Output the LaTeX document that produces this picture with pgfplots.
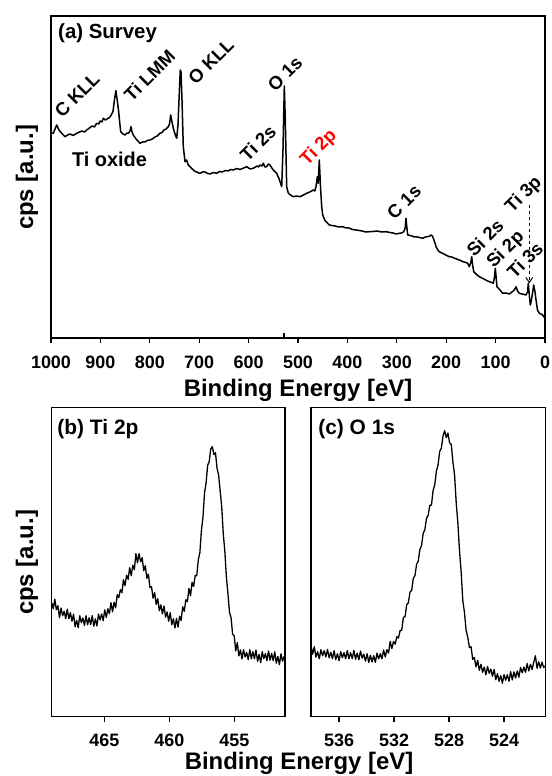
\documentclass[border=0pt]{standalone}
\usepackage{fontspec}
\setmainfont{Liberation Sans}
\usepackage{pgfplots}
\pgfplotsset{compat=1.18}
\usetikzlibrary{arrows.meta}

\pgfplotsset{
  xps/.style={
    scale only axis,
    anchor=south west,
    x dir=reverse,
    axis line style={line width=1.3bp, black},
    tick align=outside,
    xtick pos=bottom,
    ytick=\empty,
    major tick length=5bp,
    tick style={line width=1.2bp, black},
    ticklabel style={font=\fontsize{18}{20}\selectfont\bfseries},
    /pgf/number format/assume math mode=true,
    /pgf/number format/set thousands separator={},
    xticklabel style={yshift=-9bp},
  },
  curve/.style={black, line width=1.5bp, line join=round, no marks},
}
\tikzset{lab/.style={font=\fontsize{18.5}{21}\selectfont\bfseries, rotate=45, inner sep=0pt}}

\begin{document}
\begin{tikzpicture}[x=1bp,y=1bp]
\path[use as bounding box] (0,0) rectangle (552,776);

% ---------------- (a) Survey ----------------
\begin{axis}[xps, at={(51bp,438bp)}, width=494bp, height=322bp,
  xmin=0, xmax=1000, ymin=0, ymax=322,
  xtick={0,100,...,1000}]
\addplot[curve] table {
1000 205
995.3 204.7
988.5 213
983.8 208
978.3 204.7
971.7 201.3
966 203
961.5 204
955 202.5
948 204.7
942 206
937.2 207
932 206
927.7 208
922 210
917 212
912 211
907.5 214.7
903 214
900.8 217
897 216
894.1 219.7
890 218
886.6 219
883 220
880.1 221.3
874.6 226.3
871 240
868.6 247.3
866 238
863.4 228
861 216
858.9 206.3
854.3 204
850.2 203
846 205
843.5 204.7
840 207
838 211.3
836 206
833.4 203
827.9 199
824 197
819.8 194.7
815 196
809.7 196
805 197.5
799.6 198
795 199
789.5 201
785 202
779.4 204.7
775 205.5
771.3 208
767 209
762.6 211.3
760 214
757.7 223
755 216
752.4 209.7
749 204
745.5 199.7
742.9 213
740.9 238
738.3 268
736.8 266
734.8 238
732.2 191.3
728.7 176.3
725.7 178
722.1 173
718 171
714 169
711.9 168
708 166.5
704.5 166
701 165
698.4 164.7
693 166
688.3 166
683 164.5
678.1 164
671 165.5
664.6 164.7
659 166.5
653.8 166
647 167.5
641.7 167
636 168.5
631 168
624 169.5
617.4 168.5
610 170
603.8 171.3
597 169
590.5 169.7
586 171
583 172
580 171
576.9 173
573 172
570.2 174.7
567 171
563.4 171.3
560 174
556.7 173
553 170
550 168
546 166
543.1 164.7
539 160
536.4 156.3
533 151.3
530.4 188
527.7 252
525.7 218
522.9 151.3
519.6 144.7
515 143
509.5 141.3
503 142
496 141.3
489 143
482.4 144.7
476 146
469 148
466 147
463.6 151.3
460.9 161.3
458.9 154.7
456.9 178
454.1 148
452 131.3
450 123
446 118
443.3 116.3
436.6 113
431 112.5
425.1 112
418 111
409.5 111.3
403 110
396.8 110
390 108.5
382.6 108
376 107.5
370.4 107
363 106
355.7 106.3
348 106.5
340.1 107
331 106
321.9 106.3
314 105.5
307.7 105
301 104
294.9 104.7
290 105
286 106.3
283 110
281.4 119.7
279.5 110
277.9 103
273 102.5
269.2 102
265 101
261.1 101.3
254 100.5
247.6 99.7
242 101
237.4 101.3
233 102
230.8 103
228 102
226.1 99.7
222 94
220.6 91.3
217 88
214 86.3
209 85
204.5 84
199 82.5
193.7 81.3
189 81
184.2 80
179 79
173.5 78
169 77
164 76
160 75.5
156.5 74.7
153.2 71.3
150 76
148.4 81.3
146.5 73
144.3 66.3
139.7 64
133 61.3
128 60
123.5 59
118 57.5
112.8 56.3
108 55.5
104.7 54.7
102.5 60
100.6 69.7
98.8 60
97.2 51.3
91.1 48
85.6 44.7
78.9 45
72.3 44
66.8 46
62.1 48
58.7 51.3
55.7 47
52 44.7
46.6 44
42 43.5
38.5 43
35.4 46
33.8 54.7
31.8 43
29.8 33
28.3 36
26.3 41.3
22.9 53
20.2 46
18.2 38
15.2 28
11.5 24.7
8.1 24
4.7 23
2 21
0 19.7
};
\addplot[curve] coordinates {(528,0) (528,5)};
\node[anchor=west, font=\fontsize{20.5}{24}\selectfont\bfseries, inner sep=0pt] at (axis cs:985.8,305) {(a) Survey};
\node[font=\fontsize{20}{24}\selectfont\bfseries, inner sep=0pt] at (axis cs:881.6,178.5) {Ti oxide};
\node[lab] at (axis cs:947,243) {C KLL};
\node[lab] at (axis cs:800.6,263) {Ti LMM};
\node[lab] at (axis cs:676,276.5) {O KLL};
\node[lab] at (axis cs:581,195) {Ti 2s};
\node[lab] at (axis cs:526.3,264) {O 1s};
\node[lab, text=red] at (axis cs:457.5,190) {Ti 2p};
\node[lab] at (axis cs:285.4,136) {C 1s};
\node[lab] at (axis cs:121.5,100) {Si 2s};
\node[lab] at (axis cs:79,88) {Si 2p};
\node[lab] at (axis cs:40.5,78) {Ti 3s};
\node[lab] at (axis cs:42.5,143) {Ti 3p};
\draw[dashed, line width=1bp, -{Straight Barb[length=5bp,width=7bp]}] (axis cs:31.8,133) -- (axis cs:31.8,54.7);
\end{axis}

% ---------------- (b) Ti 2p ----------------
\begin{axis}[xps, at={(51.7bp,59.3bp)}, width=233.3bp, height=309bp,
  xmin=451.1, xmax=469.05, ymin=0, ymax=309,
  xtick={465,460,455}]
\addplot[curve, line width=1.3bp] table {
469.05 114
468.93 108
468.81 117.5
468.69 107
468.57 111
468.45 99
468.33 108.7
468.21 101
468.09 105.5
467.97 98
467.85 107.5
467.73 98
467.61 104
467.49 95.5
467.37 102.5
467.25 90
467.13 96.3
467.01 89
466.89 101
466.77 94
466.65 98.7
466.53 91.3
466.41 101
466.29 92
466.17 99
466.05 92
465.93 101.2
465.81 90.5
465.69 97.8
465.57 90.7
465.45 102.7
465.33 96.7
465.21 102.7
465.09 96
464.97 106.8
464.85 99.2
464.73 108
464.61 103
464.49 114
464.37 105
464.25 114.5
464.13 109
464.01 122
463.89 119
463.77 127
463.65 124
463.53 137
463.41 131
463.29 141.5
463.17 137.5
463.05 149
462.93 141
462.81 151.5
462.69 147
462.57 163
462.45 154
462.33 163
462.21 155
462.09 159
461.97 146
461.85 151
461.73 138.5
461.61 142.5
461.49 129
461.37 130
461.25 118.5
461.13 124
461.01 112.3
460.89 118
460.77 106
460.65 111.8
460.53 102.8
460.41 110.7
460.29 99.6
460.17 104.7
460.05 95.5
459.93 104
459.81 92
459.69 98
459.57 88.7
459.45 98.5
459.33 89.5
459.21 100.5
459.09 96.3
458.97 110
458.85 105.3
458.73 117
458.61 115
458.49 128.3
458.37 121
458.25 134.3
458.13 130.3
458.01 141.3
457.89 141
457.77 157
457.65 164
457.53 186.5
457.41 199.5
457.29 224
457.17 234
457.05 251.5
456.93 255
456.81 268
456.69 270
456.57 262
456.45 264
456.33 248.5
456.21 242
456.09 226
455.97 210
455.85 183
455.73 165.5
455.61 139.8
455.49 123
455.37 104.5
455.25 99
455.13 82.5
455.01 81
454.89 65.8
454.77 74
454.65 60.8
454.53 66.8
454.41 57.8
454.29 67
454.17 59.6
454.05 64.2
453.93 57
453.81 67
453.69 58
453.57 65
453.45 57.9
453.33 66.7
453.21 55.4
453.09 62.2
452.97 54
452.85 65
452.73 58
452.61 63
452.49 56
452.37 65.7
452.25 56.5
452.13 63.3
452.01 56
451.89 64.8
451.77 53.5
451.65 60.3
451.53 52
451.41 62.8
451.29 55.5
451.17 60.2
451.10 55
};
\node[anchor=west, font=\fontsize{21}{24}\selectfont\bfseries, inner sep=0pt] at (axis cs:468.62,287.5) {(b) Ti 2p};
\end{axis}

% ---------------- (c) O 1s ----------------
\begin{axis}[xps, at={(311bp,59.3bp)}, width=234.7bp, height=309bp,
  xmin=520.97, xmax=538.04, ymin=0, ymax=309,
  xtick={536,532,528,524}]
\addplot[curve, line width=1.3bp] table {
538.04 71
537.92 62.5
537.80 70
537.68 59.6
537.56 65
537.44 58
537.32 67
537.20 61
537.08 66
536.96 59.8
536.84 67.3
536.72 58.8
536.60 64.4
536.48 58
536.36 66
536.24 57
536.12 63
536.00 56
535.88 65
535.76 59
535.64 64
535.52 58
535.40 66
535.28 58
535.16 64
535.04 58
534.92 66.2
534.80 57.4
534.68 63.6
534.56 56.9
534.44 65.6
534.32 58.6
534.20 62.6
534.08 55.6
533.96 63
533.84 54.3
533.72 61.5
533.60 54.8
533.48 61
533.36 54.3
533.24 63.5
533.12 57.8
533.00 63
532.88 57.9
532.76 66.8
532.64 59.7
532.52 67
532.40 63.7
532.28 75.3
532.16 68.2
532.04 75.2
531.92 72.6
531.80 80
531.68 78.7
531.56 86.1
531.44 86.5
531.32 99.4
531.20 100
531.08 112.1
530.96 113.9
530.84 124.7
530.72 126.2
530.60 138.3
530.48 141.2
530.36 152.4
530.24 155.6
530.12 167.3
530.00 171.3
529.88 183.3
529.76 186.9
529.64 198.5
529.52 201.3
529.40 211.3
529.28 211.6
529.16 226.2
529.04 231.8
528.92 245.7
528.80 251.7
528.68 265.4
528.56 268.4
528.44 280.6
528.32 286
528.20 279
528.08 283.6
527.96 273.9
527.84 272.3
527.72 254.8
527.60 242
527.48 214
527.36 194
527.24 166
527.12 145.2
527.00 116
526.88 104.4
526.76 86.4
526.64 79.6
526.52 69.2
526.40 70
526.28 57.4
526.16 59.2
526.04 49.8
525.92 56.4
525.80 46.4
525.68 52.4
525.56 44.5
525.44 49.6
525.32 41.9
525.20 50.2
525.08 43.5
524.96 47.6
524.84 40.4
524.72 47.2
524.60 37
524.48 43
524.36 35.4
524.24 41
524.12 33.5
524.00 42
523.88 36.5
523.76 42
523.64 35.4
523.52 45
523.40 36.8
523.28 44.8
523.16 38.7
523.04 45.7
522.92 39.5
522.80 49.2
522.68 43.9
522.56 49.6
522.44 44.4
522.32 53.1
522.20 45.8
522.08 52.5
521.96 47.1
521.84 54.5
521.72 60.9
521.60 48.4
521.48 54.9
521.36 48.7
521.24 54.5
521.12 49.3
520.97 51
};
\node[anchor=west, font=\fontsize{21}{24}\selectfont\bfseries, inner sep=0pt] at (axis cs:537.52,287.5) {(c) O 1s};
\end{axis}

% ---------------- axis labels ----------------
\node[anchor=base, font=\fontsize{24}{28}\selectfont\bfseries, inner sep=0pt] at (298,379) {Binding Energy [eV]};
\node[anchor=base, font=\fontsize{24}{28}\selectfont\bfseries, inner sep=0pt] at (299,6) {Binding Energy [eV]};
\node[rotate=90, font=\fontsize{24}{28}\selectfont\bfseries, inner sep=0pt] at (27,598.5) {cps [a.u.]};
\node[rotate=90, font=\fontsize{24}{28}\selectfont\bfseries, inner sep=0pt] at (27,213.5) {cps [a.u.]};
\end{tikzpicture}
\end{document}
